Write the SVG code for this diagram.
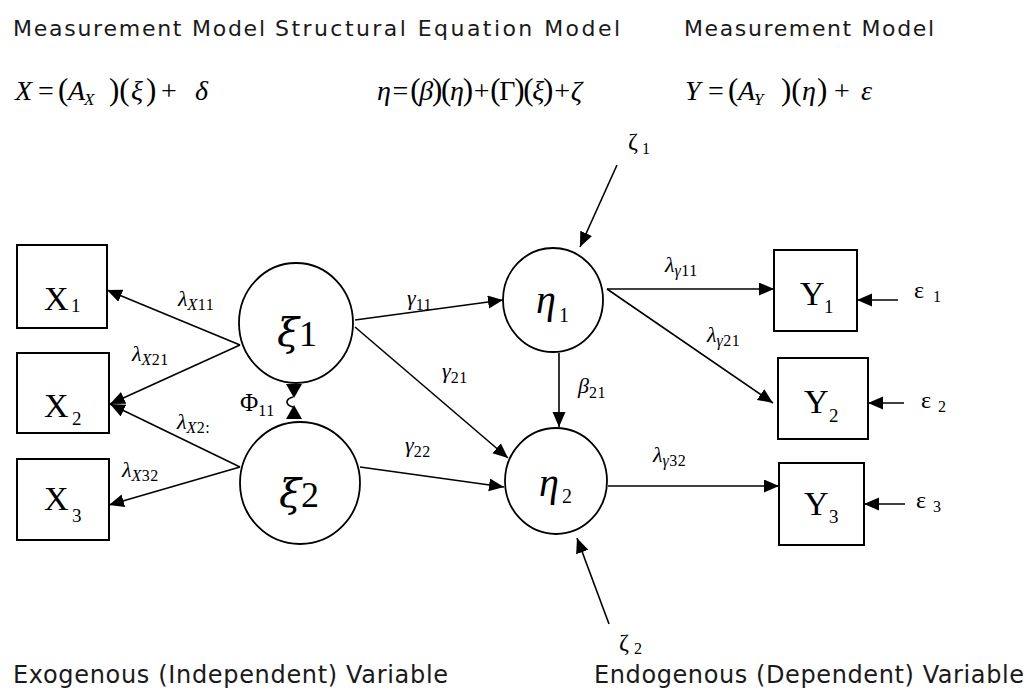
<svg xmlns="http://www.w3.org/2000/svg" width="1029" height="693" viewBox="0 0 1029 693">
<defs>
<style>
.hdr{font-family:"DejaVu Sans","Liberation Sans",sans-serif;font-size:22px;fill:#1a1a1a}
.bot{font-family:"DejaVu Sans","Liberation Sans",sans-serif;font-size:24px;fill:#1a1a1a}
.eq{font-family:"Liberation Serif","Times New Roman",serif;font-size:28px;font-style:italic;fill:#000}
.par{font-style:normal;font-size:31px}
.op{font-style:normal}
.box{fill:none;stroke:#000;stroke-width:2}
.circ{fill:none;stroke:#000;stroke-width:1.8}
.lbl{font-family:"Liberation Serif","Times New Roman",serif;font-size:34px;fill:#000}
.lsub{font-size:19px}
.lat{font-family:"Liberation Serif","Times New Roman",serif;font-size:40px;font-style:italic;fill:#000}
.lat .d{font-style:normal}
.xi{font-family:"DejaVu Serif","Liberation Serif",serif;font-style:italic;font-size:40px}
.pl{font-family:"Liberation Serif","Times New Roman",serif;font-size:22px;font-style:italic;fill:#000}
.ps{font-size:16px;letter-spacing:0.5px}
.up{font-style:normal}
.err{font-family:"Liberation Serif","Times New Roman",serif;font-size:24px;fill:#000}
.es{font-size:16px}
.con line,.con path{stroke:#000;stroke-width:1.6;fill:none}
.ah{fill:#000}
</style>
<marker id="arr" markerWidth="16" markerHeight="14" refX="15" refY="6.5" orient="auto" markerUnits="userSpaceOnUse">
<path d="M0,0 L15,6.5 L0,13 Z" class="ah"/>
</marker>
</defs>
<rect width="1029" height="693" fill="#fff"/>

<g id="headers">
<text class="hdr" x="13" y="36" textLength="252" lengthAdjust="spacing">Measurement Model</text>
<text class="hdr" x="275" y="36" textLength="345" lengthAdjust="spacing">Structural Equation Model</text>
<text class="hdr" x="684" y="36" textLength="250" lengthAdjust="spacing">Measurement Model</text>
</g>

<g id="equations">
<text class="eq" y="100"><tspan x="15">X</tspan><tspan x="38" class="op">=</tspan><tspan x="58" class="par">(</tspan><tspan x="68">A</tspan><tspan x="84" dy="5" font-size="17">X</tspan><tspan x="109" dy="-5" class="par">)(</tspan><tspan x="131">ξ</tspan><tspan x="146" class="par">)</tspan><tspan x="161" class="op">+</tspan><tspan x="195">δ</tspan></text>
<text class="eq" y="100" x="377" textLength="205" lengthAdjust="spacing">η<tspan class="op" dx="3">=</tspan><tspan class="par" dx="3">(</tspan>β<tspan class="par">)(</tspan>η<tspan class="par">)</tspan><tspan class="op" dx="2">+</tspan><tspan class="par" dx="2">(</tspan><tspan class="op">Γ</tspan><tspan class="par">)(</tspan>ξ<tspan class="par">)</tspan><tspan class="op" dx="2">+</tspan><tspan dx="2">ζ</tspan></text>
<text class="eq" y="100"><tspan x="685">Y</tspan><tspan x="708" class="op">=</tspan><tspan x="728" class="par">(</tspan><tspan x="738">A</tspan><tspan x="754" dy="5" font-size="17">Y</tspan><tspan x="781" dy="-5" class="par">)(</tspan><tspan x="802">η</tspan><tspan x="817" class="par">)</tspan><tspan x="834" class="op">+</tspan><tspan x="861">ε</tspan></text>
</g>

<g id="connectors" class="con">
<line x1="240" y1="345" x2="107" y2="290" marker-end="url(#arr)"/>
<line x1="240" y1="345" x2="110" y2="404" marker-end="url(#arr)"/>
<line x1="240" y1="467" x2="110" y2="404" marker-end="url(#arr)"/>
<line x1="240" y1="467" x2="109" y2="505" marker-end="url(#arr)"/>
<line x1="355" y1="320" x2="503" y2="300" marker-end="url(#arr)"/>
<line x1="355" y1="327" x2="508" y2="458" marker-end="url(#arr)"/>
<line x1="360" y1="467" x2="504" y2="487" marker-end="url(#arr)"/>
<line x1="559" y1="353" x2="559" y2="427" marker-end="url(#arr)"/>
<line x1="617" y1="165" x2="580" y2="247" marker-end="url(#arr)"/>
<line x1="609" y1="624" x2="577" y2="538" marker-end="url(#arr)"/>
<line x1="607" y1="289" x2="774" y2="289" marker-end="url(#arr)"/>
<line x1="607" y1="289" x2="773" y2="403" marker-end="url(#arr)"/>
<line x1="608" y1="486" x2="779" y2="486" marker-end="url(#arr)"/>
<line x1="898" y1="300" x2="857" y2="300" marker-end="url(#arr)"/>
<line x1="904" y1="403" x2="868" y2="403" marker-end="url(#arr)"/>
<line x1="905" y1="504" x2="864" y2="504" marker-end="url(#arr)"/>
<path d="M293,397 C285,399 285,405 293,407"/>
<path d="M286,384 L302,384 L294,398 Z" style="fill:#000;stroke:none"/>
<path d="M294,405 L286,419 L302,419 Z" style="fill:#000;stroke:none"/>
</g>

<g id="path-labels">
<text class="pl" x="178" y="306">λ<tspan class="ps" dy="4">X</tspan><tspan class="ps up">11</tspan></text>
<text class="pl" x="132" y="361">λ<tspan class="ps" dy="4">X</tspan><tspan class="ps up">21</tspan></text>
<text class="pl" x="177" y="429">λ<tspan class="ps" dy="4">X</tspan><tspan class="ps up">2:</tspan></text>
<text class="pl" x="122" y="477">λ<tspan class="ps" dy="4">X</tspan><tspan class="ps up">32</tspan></text>
<text class="pl" x="407" y="305">γ<tspan class="ps up" dy="5">11</tspan></text>
<text class="pl" x="442" y="378">γ<tspan class="ps up" dy="5">21</tspan></text>
<text class="pl" x="405" y="452">γ<tspan class="ps up" dy="5">22</tspan></text>
<text class="pl" x="578" y="393">β<tspan class="ps up" dy="5">21</tspan></text>
<text class="pl" x="665" y="272">λ<tspan class="ps" dy="4">γ</tspan><tspan class="ps up">11</tspan></text>
<text class="pl" x="707" y="342">λ<tspan class="ps" dy="4">γ</tspan><tspan class="ps up">21</tspan></text>
<text class="pl" x="653" y="462">λ<tspan class="ps" dy="4">γ</tspan><tspan class="ps up">32</tspan></text>
<text class="pl" x="240" y="411"><tspan class="up" font-size="25">Φ</tspan><tspan class="ps up" dy="5">11</tspan></text>
</g>

<g id="errors">
<text class="err" x="628" y="149">ζ<tspan class="es" x="642" dy="5">1</tspan></text>
<text class="err" x="619" y="650">ζ<tspan class="es" x="634" dy="4">2</tspan></text>
<text class="err" x="914" y="298">ε<tspan class="es" x="933" dy="4">1</tspan></text>
<text class="err" x="921" y="408">ε<tspan class="es" x="938" dy="4">2</tspan></text>
<text class="err" x="916" y="508">ε<tspan class="es" x="933" dy="4">3</tspan></text>
</g>

<g id="X1"><rect class="box" x="17" y="245" width="90" height="83"/><text class="lbl" x="44" y="310">X<tspan class="lsub" x="71" dy="2">1</tspan></text></g>
<g id="X2"><rect class="box" x="17" y="353" width="92" height="80"/><text class="lbl" x="44" y="417">X<tspan class="lsub" x="72" dy="8">2</tspan></text></g>
<g id="X3"><rect class="box" x="17" y="459" width="92" height="81"/><text class="lbl" x="44" y="510">X<tspan class="lsub" x="72" dy="12">3</tspan></text></g>

<g id="xi1"><ellipse class="circ" cx="296" cy="323" rx="57" ry="60"/><text class="lat" x="277" y="346"><tspan class="xi">ξ</tspan><tspan class="d" font-size="36">1</tspan></text></g>
<g id="xi2"><ellipse class="circ" cx="300" cy="483" rx="60" ry="61"/><text class="lat" x="279" y="507"><tspan class="xi">ξ</tspan><tspan class="d" font-size="36">2</tspan></text></g>
<g id="eta1"><ellipse class="circ" cx="553" cy="300" rx="50" ry="52"/><text class="lat" x="536" y="313">η<tspan class="d" font-size="20" x="559" dy="9">1</tspan></text></g>
<g id="eta2"><ellipse class="circ" cx="556" cy="481" rx="51" ry="53"/><text class="lat" x="539" y="496">η<tspan class="d" font-size="20" x="562" dy="7">2</tspan></text></g>

<g id="Y1"><rect class="box" x="774" y="250" width="83" height="81"/><text class="lbl" x="800" y="305">Y<tspan class="lsub" x="824" dy="8">1</tspan></text></g>
<g id="Y2"><rect class="box" x="778" y="358" width="90" height="81"/><text class="lbl" x="804" y="413">Y<tspan class="lsub" x="829" dy="9">2</tspan></text></g>
<g id="Y3"><rect class="box" x="779" y="463" width="85" height="82"/><text class="lbl" x="804" y="515">Y<tspan class="lsub" x="829" dy="8">3</tspan></text></g>

<g id="footers">
<text class="bot" x="13" y="683" textLength="435" lengthAdjust="spacing">Exogenous (Independent) Variable</text>
<text class="bot" x="594" y="683" textLength="430" lengthAdjust="spacing">Endogenous (Dependent) Variable</text>
</g>
</svg>
